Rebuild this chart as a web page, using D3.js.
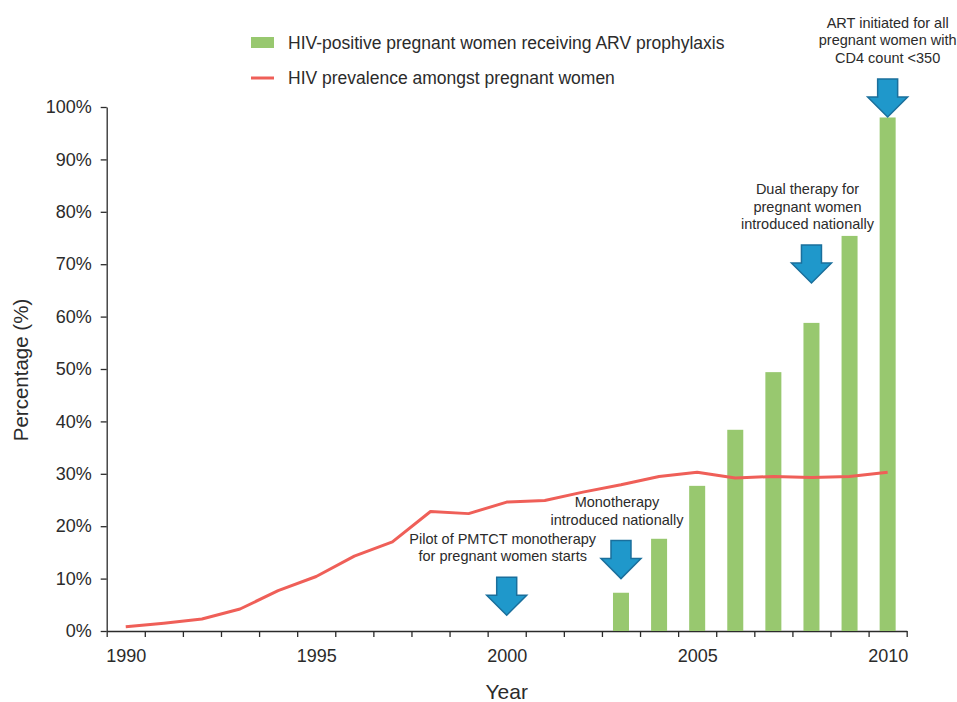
<!DOCTYPE html>
<html lang="en">
<head>
  <meta charset="utf-8">
  <title>HIV prevalence and ARV prophylaxis</title>
  <style>
    body {
      margin: 0;
      background: #ffffff;
    }

    svg text {
      font-family: "Liberation Sans", Arial, Helvetica, sans-serif;
      fill: #2b2b2b;
    }

    .axis path,
    .axis line {
      stroke: #2b2b2b;
      stroke-width: 1.3px;
    }
  </style>
</head>

<body>
  <svg id="chart" width="957" height="702"></svg>

  <script src="https://cdnjs.cloudflare.com/ajax/libs/d3/7.8.5/d3.min.js"></script>
  <script>
    //
    // Data
    //

    var years = d3.range(1990, 2011)
    var yearLabels = [1990, 1995, 2000, 2005, 2010]
    var prevalence = [0.8, 1.5, 2.3, 4.2, 7.7, 10.4, 14.3, 17.0, 22.8, 22.4, 24.6,
      24.9, 26.5, 27.9, 29.5, 30.3, 29.2, 29.5, 29.3, 29.5, 30.3]
    var arvYears = [2003, 2004, 2005, 2006, 2007, 2008, 2009, 2010]
    var arvValues = [7.3, 17.6, 27.7, 38.4, 49.4, 58.8, 75.4, 98.0]
    var yTicks = [0, 10, 20, 30, 40, 50, 60, 70, 80, 90, 100]

    // milestones: year of the arrow, value the arrow points at
    var eventYears = [2000, 2003, 2008, 2010]
    var eventTips = [3.0, 10.0, 66.4, 98.1]
    var eventTexts = [
      ['Pilot of PMTCT monotherapy', 'for pregnant women starts'],
      ['Monotherapy', 'introduced nationally'],
      ['Dual therapy for', 'pregnant women', 'introduced nationally'],
      ['ART initiated for all', 'pregnant women with', 'CD4 count <350']
    ]

    var legendLabels = ['HIV-positive pregnant women receiving ARV prophylaxis',
      'HIV prevalence amongst pregnant women']

    //
    // Layout
    //

    var colorBar = '#98c86f'
    var colorLine = '#ef5f58'
    var colorArrow = '#1f98cb'
    var colorArrowEdge = '#1a6f9c'

    var plotLeft = 106.7, plotRight = 906.7, plotTop = 107, plotBottom = 631

    var svg = d3.select('#chart')

    var x = d3.scaleLinear().domain([1989.5, 2010.5]).range([plotLeft, plotRight])
    var y = d3.scaleLinear().domain([0, 100]).range([plotBottom, plotTop])

    //
    // Axes
    //

    svg.append('g')
      .attr('class', 'axis')
      .attr('transform', 'translate(0,' + plotBottom + ')')
      .call(d3.axisBottom(x)
        .tickValues(d3.range(1989.5, 2011, 1))
        .tickFormat('')
        .tickSize(6)
        .tickSizeOuter(0))

    var xLabels = svg.append('g')
      .attr('transform', 'translate(0,' + plotBottom + ')')
      .call(d3.axisBottom(x)
        .tickValues(yearLabels)
        .tickFormat(d3.format('d'))
        .tickSize(0)
        .tickPadding(18))
    xLabels.select('.domain').remove()
    xLabels.selectAll('text')
      .attr('font-size', 18)
      .attr('font-family', null)

    var yAxis = svg.append('g')
      .attr('class', 'axis')
      .attr('transform', 'translate(' + plotLeft + ',0)')
      .call(d3.axisLeft(y)
        .tickValues(yTicks)
        .tickFormat(function(d) { return d + '%' })
        .tickSize(6)
        .tickSizeOuter(0)
        .tickPadding(9))
    yAxis.selectAll('text')
      .attr('font-size', 18)
      .attr('font-family', null)

    svg.append('text')
      .attr('x', (plotLeft + plotRight) / 2)
      .attr('y', 699)
      .attr('text-anchor', 'middle')
      .attr('font-size', 21)
      .text('Year')

    svg.append('text')
      .attr('transform', 'translate(28,' + ((plotTop + plotBottom) / 2 + 1) + ') rotate(-90)')
      .attr('text-anchor', 'middle')
      .attr('font-size', 20.5)
      .text('Percentage (%)')

    //
    // Marks
    //

    var barWidth = 16

    svg.append('g')
      .selectAll('rect')
      .data(arvYears)
      .join('rect')
      .attr('x', function(d) { return x(d) - barWidth / 2 })
      .attr('width', barWidth)
      .attr('y', function(d, i) { return y(arvValues[i]) })
      .attr('height', function(d, i) { return plotBottom - y(arvValues[i]) })
      .attr('fill', colorBar)

    var line = d3.line()
      .x(function(d) { return x(d) })
      .y(function(d, i) { return y(prevalence[i]) })

    svg.append('path')
      .datum(years)
      .attr('d', line)
      .attr('fill', 'none')
      .attr('stroke', colorLine)
      .attr('stroke-width', 3)
      .attr('stroke-linejoin', 'round')

    //
    // Milestone arrows and notes
    //

    function arrowPath(cx, tipY) {
      var h = 38, headH = 20, shaft = 10, head = 20
      var t = tipY - h
      return 'M' + (cx - shaft) + ',' + t +
        'L' + (cx + shaft) + ',' + t +
        'L' + (cx + shaft) + ',' + (t + h - headH) +
        'L' + (cx + head) + ',' + (t + h - headH) +
        'L' + cx + ',' + tipY +
        'L' + (cx - head) + ',' + (t + h - headH) +
        'L' + (cx - shaft) + ',' + (t + h - headH) + 'Z'
    }

    var events = svg.append('g')
      .selectAll('g')
      .data(eventYears)
      .join('g')

    events.append('path')
      .attr('d', function(d, i) { return arrowPath(x(d), y(eventTips[i])) })
      .attr('fill', colorArrow)
      .attr('stroke', colorArrowEdge)
      .attr('stroke-width', 1.5)
      .attr('stroke-linejoin', 'miter')

    events.append('text')
      .attr('text-anchor', 'middle')
      .attr('font-size', 14.5)
      .each(function(d, i) {
        var lines = eventTexts[i]
        var lastBase = y(eventTips[i]) - 38 - 16
        var t = d3.select(this)
        lines.forEach(function(s, k) {
          t.append('tspan')
            .attr('x', x(d) - (i < 3 ? 4 : 0))
            .attr('y', lastBase - (lines.length - 1 - k) * 17.5)
            .text(s)
        })
      })

    //
    // Legend
    //

    var legend = svg.append('g')
      .selectAll('g')
      .data(legendLabels)
      .join('g')
      .attr('transform', function(d, i) { return 'translate(251,' + (43 + i * 35) + ')' })

    legend.each(function(d, i) {
      var g = d3.select(this)
      if (i === 0) {
        g.append('rect')
          .attr('x', 0).attr('y', -6)
          .attr('width', 23).attr('height', 11)
          .attr('fill', colorBar)
      } else {
        g.append('line')
          .attr('x1', 0).attr('x2', 23)
          .attr('y1', 0).attr('y2', 0)
          .attr('stroke', colorLine)
          .attr('stroke-width', 3)
      }
      g.append('text')
        .attr('x', 37)
        .attr('y', 6)
        .attr('font-size', 17.5)
        .text(d)
    })
  </script>
</body>

</html>
